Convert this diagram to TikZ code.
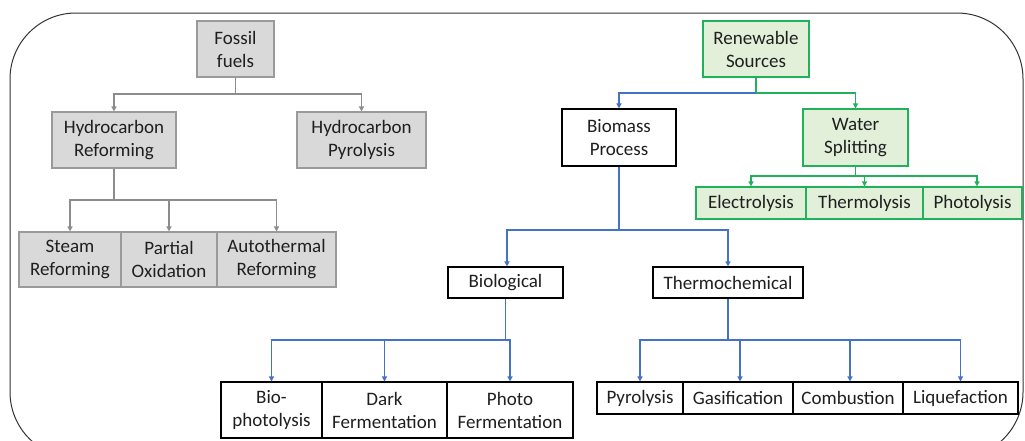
\documentclass[tikz,border=0pt]{standalone}
\usepackage{fontspec}
\setmainfont{Carlito}
\usetikzlibrary{arrows.meta}
\definecolor{gfill}{HTML}{D9D9D9}
\definecolor{gdraw}{HTML}{9A9A9A}
\definecolor{gline}{HTML}{8C8C8C}
\definecolor{grnfill}{HTML}{E2F0D9}
\definecolor{grn}{HTML}{1FB25A}
\definecolor{blu}{HTML}{4472C4}
\definecolor{txt}{HTML}{1F1F1F}
\tikzset{
  x=1pt, y=-1pt,
  box/.style={rectangle, inner sep=0pt, align=center, text=txt,
    font=\fontsize{19}{23}\selectfont, line width=1.1pt},
  graybox/.style={box, draw=gdraw, fill=gfill},
  greenbox/.style={box, draw=grn, fill=grnfill},
  whitebox/.style={box, draw=black, fill=white},
  tip/.style={-{Triangle[length=5pt,width=5pt]}},
  gconn/.style={draw=gline, line width=1.3pt},
  bconn/.style={draw=blu, line width=1.5pt},
  nconn/.style={draw=grn, line width=1.3pt},
}
\begin{document}
\begin{tikzpicture}
\useasboundingbox (0,0) rectangle (1025,440);
\draw[line width=1pt, draw=black!80, rounded corners=66pt] (10,13) rectangle (1023,458);

% Fossil side
\node[graybox, minimum width=77pt, minimum height=56pt] (fossil) at (235.5,49) {Fossil\\fuels};
\node[graybox, minimum width=124pt, minimum height=56pt] (hr) at (114,140) {Hydrocarbon\\Reforming};
\node[graybox, minimum width=129pt, minimum height=56pt] (hp) at (361.5,140) {Hydrocarbon\\Pyrolysis};
\node[graybox, minimum width=102pt, minimum height=55pt] (steam) at (70,259.5) {Steam\\Reforming};
\node[graybox, minimum width=96pt, minimum height=55pt] (partial) at (169,259.5) {Partial\\Oxidation};
\node[graybox, minimum width=119pt, minimum height=55pt] (auto) at (276.5,259.5) {Autothermal\\Reforming};

% Renewable side
\node[greenbox, minimum width=106pt, minimum height=56pt] (renew) at (756,49) {Renewable\\Sources};
\node[whitebox, minimum width=114pt, minimum height=57pt] (biomass) at (619,137.5) {Biomass\\Process};
\node[greenbox, minimum width=105pt, minimum height=57pt] (water) at (855.5,137.5) {Water\\Splitting};
\node[greenbox, minimum width=110pt, minimum height=32pt] (elec) at (751,203) {Electrolysis};
\node[greenbox, minimum width=117pt, minimum height=32pt] (thermol) at (864.5,203) {Thermolysis};
\node[greenbox, minimum width=99pt, minimum height=32pt] (photol) at (972.5,203) {Photolysis};

\node[whitebox, minimum width=115pt, minimum height=31pt] (biol) at (505.5,282.5) {Biological};
\node[whitebox, minimum width=150pt, minimum height=31pt] (thermoc) at (728,282.5) {Thermochemical};

\node[whitebox, minimum width=101pt, minimum height=56pt] (biophot) at (271.5,410) {Bio-\\photolysis};
\node[whitebox, minimum width=125pt, minimum height=56pt] (dark) at (384.5,410) {Dark\\Fermentation};
\node[whitebox, minimum width=126pt, minimum height=56pt] (photof) at (510,410) {Photo\\Fermentation};

\node[whitebox, minimum width=86pt, minimum height=32pt] (pyro) at (640,398) {Pyrolysis};
\node[whitebox, minimum width=110pt, minimum height=32pt] (gas) at (738,398) {Gasification};
\node[whitebox, minimum width=110pt, minimum height=32pt] (comb) at (848,398) {Combustion};
\node[whitebox, minimum width=115pt, minimum height=32pt] (liq) at (960.5,398) {Liquefaction};

% junctions
\coordinate (b1) at (235.5,94);
\coordinate (b2) at (114,200);
\coordinate (b3) at (756,93);
\coordinate (b4) at (619,230);
\coordinate (b5) at (505.5,340);
\coordinate (b6) at (728,340);
\coordinate (b7) at (855.5,176);

% fossil connectors
\draw[gconn] (fossil.south) -- (b1);
\draw[gconn, tip] (b1) -| (hr.north);
\draw[gconn, tip] (b1) -| (hp.north);
\draw[gconn] (hr.south) -- (b2);
\draw[gconn, tip] (b2) -| (steam.north);
\draw[gconn, tip] (b2) -| (partial.north);
\draw[gconn, tip] (b2) -| (auto.north);

% renewable connectors
\draw[nconn] (renew.south) -- (b3);
\draw[nconn, tip] (b3) -| (water.north);
\draw[bconn, tip] (b3) -| (biomass.north);
\draw[nconn] (water.south) -- (b7);
\draw[nconn, tip] (b7) -| (elec.north);
\draw[nconn, tip] (b7) -| (thermol.north);
\draw[nconn, tip] (b7) -| ([xshift=4.5pt]photol.north);

\draw[bconn] (biomass.south) -- (b4);
\draw[bconn, tip] (b4) -| ([xshift=1.5pt]biol.north);
\draw[bconn, tip] (b4) -| (thermoc.north);

\draw[bconn] (biol.south) -- (b5);
\draw[bconn, tip] (b5) -| (biophot.north);
\draw[bconn, tip] (b5) -| (dark.north);
\draw[bconn, tip] (b5) -| (photof.north);

\draw[bconn] (thermoc.south) -- (b6);
\draw[bconn, tip] (b6) -| (pyro.north);
\draw[bconn, tip] (b6) -| ([xshift=2pt]gas.north);
\draw[bconn, tip] (b6) -| ([xshift=2pt]comb.north);
\draw[bconn, tip] (b6) -| (liq.north);
\end{tikzpicture}
\end{document}
